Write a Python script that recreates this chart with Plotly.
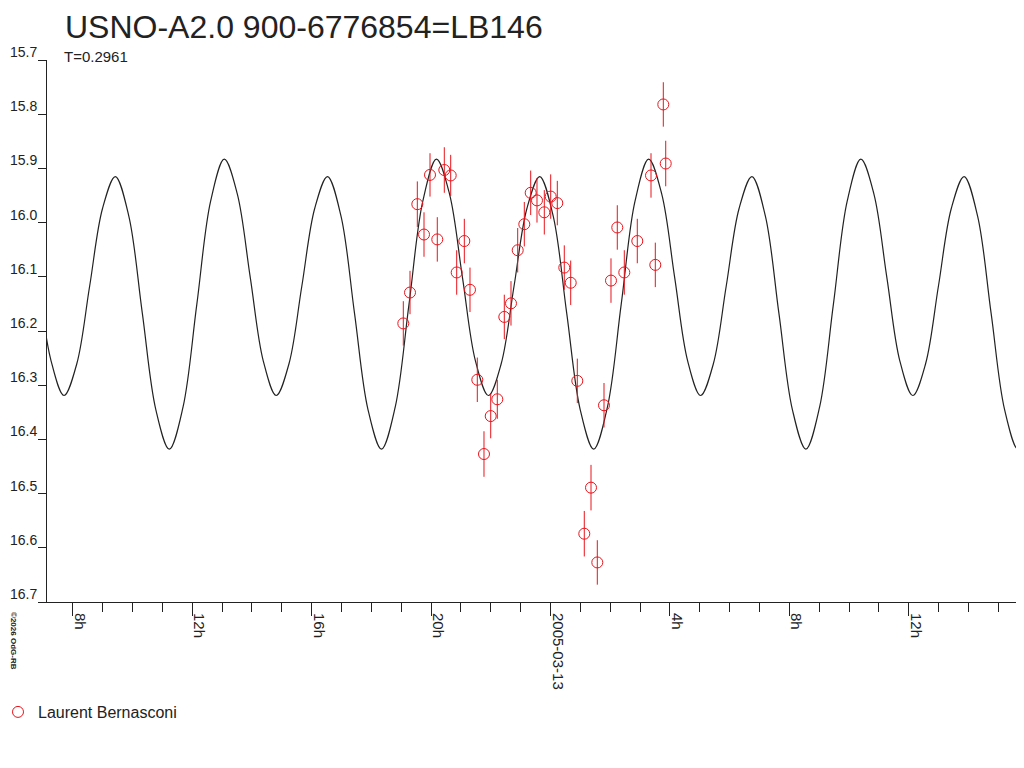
import pandas as pd
import plotly.graph_objects as go

# observations: hours since 2005-03-12 00:00 UT, magnitude, error
obs_hours = [
    19.072, 19.296, 19.541, 19.765, 19.966, 20.210, 20.445, 20.659, 20.860, 21.115,
    21.305, 21.550, 21.774, 21.999, 22.220, 22.454, 22.678, 22.903, 23.124, 23.338,
    23.549, 23.794, 24.008, 24.229, 24.463, 24.678, 24.899, 25.133, 25.358, 25.569,
    25.793, 26.027, 26.238, 26.473, 26.908, 27.367, 27.511, 27.779, 27.860,
]
obs_mag = [
    16.186, 16.129, 15.966, 16.022, 15.912, 16.031, 15.903, 15.913, 16.092, 16.034,
    16.124, 16.290, 16.427, 16.357, 16.326, 16.174, 16.149, 16.051, 16.003, 15.945,
    15.959, 15.981, 15.952, 15.964, 16.083, 16.111, 16.292, 16.574, 16.489, 16.627,
    16.337, 16.107, 16.009, 16.092, 16.034, 15.913, 16.078, 15.782, 15.891,
]
obs_err = [
    0.041, 0.040, 0.042, 0.041, 0.040, 0.041, 0.042, 0.038, 0.041, 0.041,
    0.041, 0.041, 0.042, 0.041, 0.036, 0.041, 0.041, 0.041, 0.041, 0.041,
    0.041, 0.041, 0.041, 0.041, 0.041, 0.041, 0.041, 0.042, 0.042, 0.041,
    0.041, 0.041, 0.041, 0.041, 0.041, 0.041, 0.041, 0.041, 0.042,
]

# model light curve (T=0.2961 d)
model_hours = [
    6.840, 7.275,
    7.709, 8.139, 8.568, 8.998, 9.427, 9.879, 10.331, 10.783,
    11.235, 11.696, 12.156, 12.617, 13.077, 13.512, 13.946, 14.381,
    14.815, 15.245, 15.674, 16.104, 16.533, 16.985, 17.437, 17.889,
    18.341, 18.802, 19.262, 19.723, 20.183, 20.618, 21.052, 21.487,
    21.922, 22.352, 22.781, 23.211, 23.640, 24.092, 24.544, 24.996,
    25.448, 25.909, 26.369, 26.830, 27.290, 27.725, 28.159, 28.594,
    29.028, 29.458, 29.887, 30.317, 30.746, 31.198, 31.650, 32.102,
    32.554, 33.015, 33.475, 33.936, 34.396, 34.831, 35.265, 35.700,
    36.135, 36.565, 36.994, 37.424, 37.853, 38.305, 38.757, 39.209,
    39.661, 40.122, 40.582,
]
model_mag = [
    16.101, 16.255,
    16.319, 16.260, 16.117, 15.974, 15.915, 15.988, 16.167, 16.345,
    16.418, 16.340, 16.151, 15.961, 15.883, 15.947, 16.101, 16.255,
    16.319, 16.260, 16.117, 15.974, 15.915, 15.988, 16.167, 16.345,
    16.418, 16.340, 16.151, 15.961, 15.883, 15.947, 16.101, 16.255,
    16.319, 16.260, 16.117, 15.974, 15.915, 15.988, 16.167, 16.345,
    16.418, 16.340, 16.151, 15.961, 15.883, 15.947, 16.101, 16.255,
    16.319, 16.260, 16.117, 15.974, 15.915, 15.988, 16.167, 16.345,
    16.418, 16.340, 16.151, 15.961, 15.883, 15.947, 16.101, 16.255,
    16.319, 16.260, 16.117, 15.974, 15.915, 15.988, 16.167, 16.345,
    16.418, 16.340, 16.151,
]

x_range_hours = [7.139, 39.591]
tick_hours = [8, 12, 16, 20, 24, 28, 32, 36]
tick_text = ["8h", "12h", "16h", "20h", "2005-03-13", "4h", "8h", "12h"]

RED = "#e8141c"
INK = "#222222"
FONT = "Liberation Sans, Arial, sans-serif"

# the page body puts 8px around the figure; keep it inside the window
W, H = 1008, 752
L, T, B = 39, 52, 158
PW, PH = W - L, H - T - B

base = pd.Timestamp("2005-03-12")


def to_time(hours):
    return base + pd.to_timedelta(hours, unit="h")


fig = go.Figure()
fig.add_trace(
    go.Scatter(
        x=to_time(model_hours),
        y=model_mag,
        mode="lines",
        line=dict(color=INK, width=1.2, shape="spline", smoothing=1),
        showlegend=False,
        hoverinfo="skip",
    )
)
fig.add_trace(
    go.Scatter(
        x=to_time(obs_hours),
        y=obs_mag,
        mode="markers",
        marker=dict(symbol="circle-open", size=11, color=RED, line=dict(width=1, color=RED)),
        error_y=dict(type="data", array=obs_err, color=RED, thickness=1, width=0),
        name="Laurent Bernasconi",
        showlegend=True,
    )
)

fig.update_layout(
    width=W,
    height=H,
    margin=dict(l=L, r=0, t=T, b=B, autoexpand=False),
    paper_bgcolor="white",
    plot_bgcolor="white",
    font=dict(family=FONT, color=INK, size=15),
    title=dict(
        text="USNO-A2.0 900-6776854=LB146",
        font=dict(size=32, color=INK, family=FONT),
        xref="container", x=57 / W, xanchor="left",
        yref="container", y=1 - 19 / H, yanchor="middle",
    ),
    legend=dict(
        xref="paper", x=-49 / PW, xanchor="left",
        yref="paper", y=-110 / PH, yanchor="middle",
        orientation="h",
        font=dict(size=16, color=INK, family=FONT),
        itemwidth=30,
        bgcolor="rgba(0,0,0,0)",
    ),
    annotations=[
        dict(
            text="T=0.2961", xref="paper", yref="paper", x=15 / PW, y=1 + 3 / PH,
            xanchor="left", yanchor="middle", showarrow=False,
            font=dict(size=15, color=INK, family=FONT),
        ),
        dict(
            text="<b>©2026 OdG-RB</b>", xref="paper", yref="paper", x=-33 / PW, y=-39 / PH,
            xanchor="center", yanchor="middle", showarrow=False, textangle=90,
            font=dict(size=8, color=INK, family=FONT),
        ),
    ],
)

fig.update_xaxes(
    type="date",
    range=list(to_time(x_range_hours)),
    tickmode="array",
    tickvals=list(to_time(tick_hours)),
    ticktext=tick_text,
    tickangle=90,
    ticks="outside",
    ticklen=13,
    tickcolor=INK,
    ticklabelshift=7,
    ticklabelstandoff=-6,
    minor=dict(tickmode="linear", tick0=base, dtick=3600000, ticks="outside", ticklen=9, tickcolor=INK),
    showline=True,
    linecolor=INK,
    linewidth=1,
    showgrid=False,
    zeroline=False,
    tickfont=dict(size=15, color=INK, family=FONT),
)
fig.update_yaxes(
    range=[16.7, 15.7],
    tickmode="linear",
    tick0=15.7,
    dtick=0.1,
    tickformat=".1f",
    ticks="outside",
    ticklen=8,
    tickcolor=INK,
    ticklabelshift=8,
    ticklabelstandoff=-2,
    showline=True,
    linecolor=INK,
    linewidth=1,
    showgrid=False,
    zeroline=False,
    tickfont=dict(size=14, color=INK, family=FONT),
)

fig.write_html("out.html")
